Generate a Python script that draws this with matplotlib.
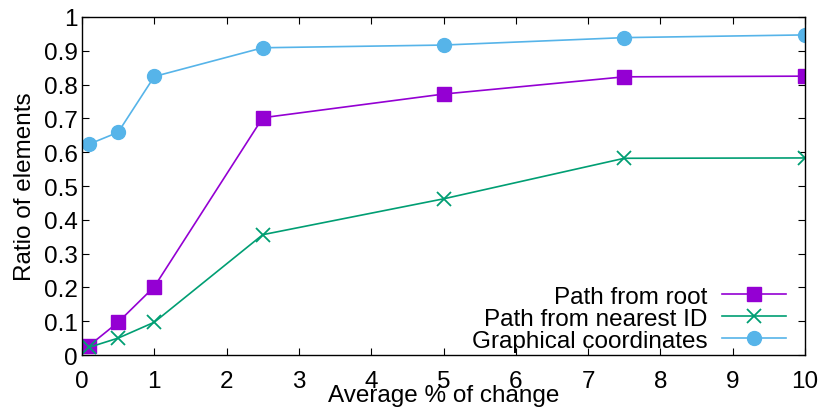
import matplotlib
matplotlib.use("Agg")
import matplotlib.pyplot as plt

plt.rcParams["font.family"] = ["Liberation Sans", "DejaVu Sans"]

change = [0.1, 0.5, 1, 2.5, 5, 7.5, 10]
path_root = [0.028, 0.097, 0.202, 0.702, 0.772, 0.823, 0.825]
path_nearest = [0.023, 0.050, 0.097, 0.356, 0.462, 0.582, 0.583]
graphical = [0.624, 0.659, 0.824, 0.909, 0.917, 0.939, 0.947]

FS = 17.5

fig = plt.figure(figsize=(8.21, 4.10), dpi=100)
ax = fig.add_axes([0.0999, 0.1317, 0.8806, 0.8244])

ax.plot(change, path_root, color="#9400d3", lw=1.2, marker="s", ms=10,
        label="Path from root")
ax.plot(change, path_nearest, color="#009e73", lw=1.2, marker="x", ms=10, mew=1.3,
        label="Path from nearest ID")
ax.plot(change, graphical, color="#56b4e9", lw=1.2, marker="o", ms=10,
        label="Graphical coordinates")

ax.set_xlim(0, 10)
ax.set_ylim(0, 1)
ax.set_xticks(range(0, 11))
ax.set_yticks([i / 10 for i in range(11)])
ax.set_yticklabels(["0"] + [f"0.{i}" for i in range(1, 10)] + ["1"])
ax.tick_params(direction="in", top=True, right=True, length=5, width=0.8,
               labelsize=FS)
ax.tick_params(axis="x", pad=11)
ax.tick_params(axis="y", pad=3)
for s in ax.spines.values():
    s.set_linewidth(1.0)

ax.set_xlabel("Average % of change", fontsize=FS, labelpad=-6)
ax.set_ylabel("Ratio of elements", fontsize=FS, labelpad=6)

ax.legend(loc="lower right", frameon=False, fontsize=FS, markerfirst=False,
          handlelength=2.65, handletextpad=0.6, labelspacing=0.0,
          borderaxespad=0, borderpad=0, bbox_to_anchor=(0.974, 0.009))

fig.savefig("out.png", dpi=100, facecolor="white")
